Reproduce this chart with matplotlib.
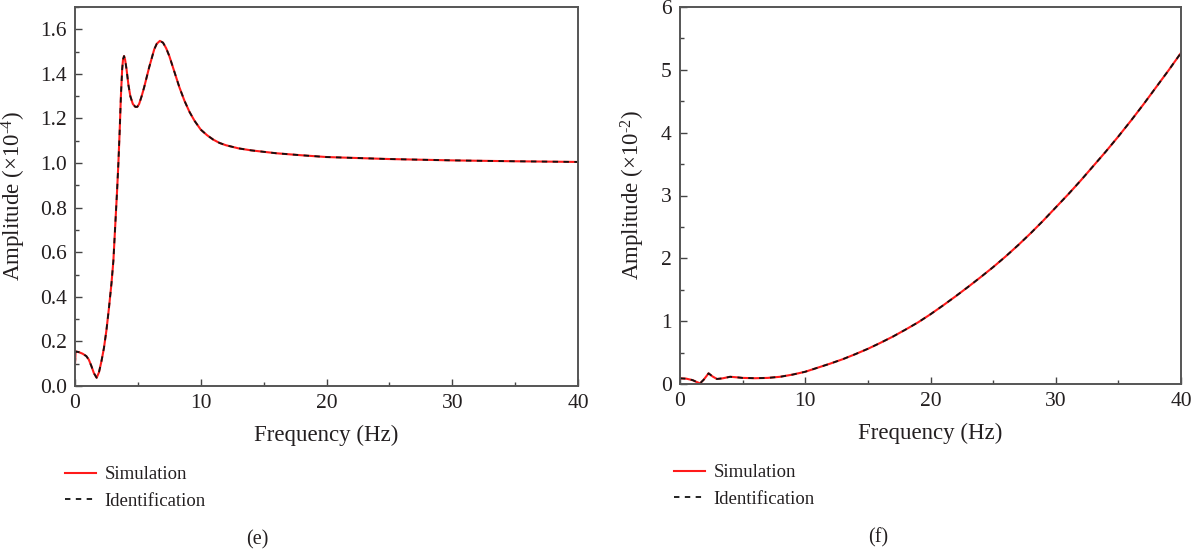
import matplotlib
matplotlib.use("Agg")
import matplotlib.pyplot as plt
from matplotlib.ticker import MultipleLocator, FormatStrFormatter

# ---------------- data ----------------
freq_e = [0.0, 0.05, 0.3, 0.6, 0.9, 1.1, 1.3, 1.5, 1.72, 1.9, 2.1, 2.3, 2.5, 2.7, 2.9,
          3.05, 3.2, 3.35, 3.45, 3.55, 3.65, 3.75, 3.82, 3.9, 3.98, 4.1, 4.25, 4.4,
          4.6, 4.8, 4.95, 5.1, 5.3, 5.5, 5.7, 5.9, 6.1, 6.3, 6.5, 6.75, 7.0, 7.25,
          7.5, 7.9, 8.3, 8.7, 9.1, 9.5, 10.0, 10.5, 11.0, 11.5, 12.0, 13.0, 14.0,
          16.0, 18.0, 20.0, 25.0, 30.0, 35.0, 40.0]
amp_e = [0.10, 0.155, 0.152, 0.145, 0.134, 0.118, 0.09, 0.058, 0.037, 0.06, 0.11,
         0.17, 0.25, 0.35, 0.46, 0.56, 0.72, 0.88, 1.00, 1.14, 1.30, 1.42, 1.465,
         1.48, 1.465, 1.42, 1.35, 1.30, 1.265, 1.252, 1.252, 1.265, 1.30, 1.34,
         1.385, 1.43, 1.47, 1.51, 1.535, 1.548, 1.54, 1.515, 1.48, 1.41, 1.34, 1.28,
         1.23, 1.19, 1.15, 1.125, 1.105, 1.09, 1.08, 1.066, 1.057, 1.044, 1.035,
         1.027, 1.018, 1.012, 1.008, 1.005]

freq_f = [0.0, 0.5, 1.0, 1.3, 1.6, 1.9, 2.28, 2.6, 2.95, 3.4, 4.0, 4.6, 5.0, 6.0, 7.0,
          8.0, 9.0, 10.0, 11.0, 12.0, 13.0, 14.0, 15.0, 16.0, 17.0, 18.0, 19.0, 20.0,
          21.0, 22.0, 23.0, 24.0, 25.0, 26.0, 27.0, 28.0, 29.0, 30.0, 31.0, 32.0,
          33.0, 34.0, 35.0, 36.0, 37.0, 38.0, 39.0, 40.0]
amp_f = [0.09, 0.085, 0.062, 0.035, 0.01, 0.07, 0.17, 0.12, 0.08, 0.09, 0.115, 0.105,
         0.097, 0.092, 0.097, 0.115, 0.15, 0.195, 0.26, 0.325, 0.395, 0.475, 0.56,
         0.655, 0.755, 0.865, 0.98, 1.11, 1.25, 1.395, 1.545, 1.70, 1.86, 2.03, 2.21,
         2.40, 2.60, 2.81, 3.02, 3.24, 3.47, 3.70, 3.94, 4.19, 4.45, 4.72, 4.99, 5.27]

series_labels = ["Simulation", "Identification"]
ylabels = [r"Amplitude (×10$^{\text{-}4}$)", r"Amplitude (×10$^{\text{-}2}$)"]
xlabel = "Frequency (Hz)"
captions = ["(e)", "(f)"]

# ---------------- style ----------------
TXT = "#231f20"
plt.rcParams['font.family'] = ['Liberation Serif', 'DejaVu Serif']
plt.rcParams['mathtext.fontset'] = 'custom'
plt.rcParams['mathtext.rm'] = 'Liberation Serif'
plt.rcParams['mathtext.it'] = 'Liberation Serif:italic'
plt.rcParams['text.color'] = TXT
plt.rcParams['axes.labelcolor'] = TXT

W, H = 1200, 556
fig = plt.figure(figsize=(W / 100, H / 100), dpi=100)

def px_axes(l, r, t, b):
    return fig.add_axes([l / W, 1 - b / H, (r - l) / W, (b - t) / H])

ax_e = px_axes(75, 578, 7, 386)
ax_f = px_axes(680, 1181, 7, 384)

panels = [
    (ax_e, freq_e, amp_e, (0, 1.7), 0.2, 0.1, '%.1f', ylabels[0], -0.094, 65, 466, captions[0], 257, 540),
    (ax_f, freq_f, amp_f, (0, 6), 1, 0.5, '%d', ylabels[1], -0.066, 674, 464, captions[1], 878, 538),
]

for ax, fx, fy, ylim, ymaj, ymin, fmt, ylab, ylx, lgx, lgy, cap, cx, cy in panels:
    l1, = ax.plot(fx, fy, color='#ff1a1a', lw=1.5, label=series_labels[0])
    l2, = ax.plot(fx, fy, color='#111111', lw=1.3, ls=(0, (3, 3)), label=series_labels[1])
    ax.set_xlim(0, 40)
    ax.set_ylim(*ylim)
    ax.xaxis.set_major_locator(MultipleLocator(10))
    ax.xaxis.set_minor_locator(MultipleLocator(5))
    ax.yaxis.set_major_locator(MultipleLocator(ymaj))
    ax.yaxis.set_minor_locator(MultipleLocator(ymin))
    ax.yaxis.set_major_formatter(FormatStrFormatter(fmt))
    ax.tick_params(which='both', direction='in', top=False, right=False,
                   labelsize=15.5, width=1.0, colors='#444444', labelcolor=TXT)
    ax.tick_params(which='major', length=5, pad=6)
    ax.tick_params(which='minor', length=3)
    for s in ax.spines.values():
        s.set_color('#555555')
        s.set_linewidth(1.4)
    ax.set_xlabel(xlabel, fontsize=16.5, labelpad=8)
    ax.set_ylabel(ylab, fontsize=16.5)
    ax.yaxis.set_label_coords(ylx, 0.5)
    ax.legend(handles=[l1, l2], loc='upper left',
              bbox_to_anchor=(lgx / W, 1 - lgy / H), bbox_transform=fig.transFigure,
              frameon=False, fontsize=13.5, handlelength=1.65, handletextpad=0.45,
              labelspacing=0.5, borderpad=0, borderaxespad=0)
    fig.text(cx / W, 1 - cy / H, cap, ha='center', va='center', fontsize=14.5)

fig.savefig("out.png", dpi=100)
